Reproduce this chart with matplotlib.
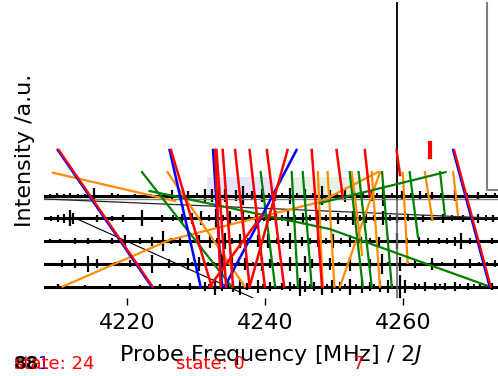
import matplotlib
matplotlib.use("Agg")
import matplotlib.pyplot as plt

# stick spectra, one list of peak positions [MHz] and half-heights per trace (bottom -> top)
trace0_pos = [4209.9, 4213.8, 4217.4, 4221.8, 4224.7, 4227.3, 4229.0, 4231.2, 4232.7, 4233.7,
              4235.3, 4236.3, 4237.3, 4238.9, 4240.6, 4242.4, 4243.5, 4245.0, 4245.7, 4247.1,
              4248.2, 4249.6, 4250.8, 4252.2, 4254.0, 4255.1, 4256.6, 4257.7, 4259.5, 4260.2,
              4261.6, 4263.1, 4264.5, 4266.0, 4267.4, 4269.3, 4271.1, 4272.8]
trace0_amp = [0.1, 0.08, 0.1, 0.06, 0.1, 0.12, 0.15, 0.2, 0.35, 0.2,
              0.25, 0.35, 0.15, 0.3, 0.2, 0.15, 0.2, 0.4, 0.25, 0.2,
              0.35, 0.3, 0.2, 0.35, 0.3, 0.2, 0.25, 0.3, 0.5, 0.3,
              0.15, 0.2, 0.15, 0.15, 0.2, 0.15, 0.1, 0.15]
trace1_pos = [4210.5, 4212.4, 4214.3, 4215.6, 4218.2, 4220.3, 4223.5, 4226.0, 4228.7, 4230.4,
              4233.7, 4235.1, 4237.0, 4239.5, 4240.6, 4243.5, 4245.7, 4246.7, 4249.3, 4252.2,
              4255.1, 4256.9, 4259.5, 4261.7, 4264.1, 4267.4, 4269.6, 4273.2]
trace1_amp = [0.15, 0.2, 0.35, 0.2, 0.1, 0.15, 0.4, 0.2, 0.25, 0.3,
              0.45, 0.3, 0.25, 0.3, 0.2, 0.3, 0.35, 0.2, 0.25, 0.3,
              0.2, 0.45, 0.3, 0.2, 0.25, 0.2, 0.2, 0.15]
trace2_pos = [4208.7, 4210.2, 4212.4, 4214.3, 4216.0, 4217.7, 4219.6, 4221.8, 4223.5, 4225.1,
              4227.6, 4230.4, 4231.9, 4234.1, 4236.3, 4238.9, 4240.3, 4243.5, 4245.3, 4247.6,
              4249.8, 4252.2, 4253.9, 4256.5, 4259.1, 4262.3, 4265.2, 4267.4, 4268.4, 4270.8, 4272.9]
trace2_amp = [0.1, 0.1, 0.15, 0.15, 0.1, 0.15, 0.25, 0.15, 0.2, 0.45,
              0.2, 0.25, 0.3, 0.35, 0.3, 0.25, 0.3, 0.35, 0.2, 0.25,
              0.3, 0.25, 0.2, 0.2, 0.35, 0.2, 0.15, 0.2, 0.35, 0.15, 0.15]
trace3_pos = [4208.9, 4210.0, 4210.8, 4211.6, 4212.1, 4215.6, 4217.8, 4219.3, 4222.1, 4225.0,
              4227.9, 4229.3, 4230.7, 4232.9, 4234.8, 4236.7, 4238.6, 4241.5, 4243.2, 4245.4,
              4247.6, 4250.5, 4252.7, 4254.6, 4257.0, 4259.1, 4262.8, 4265.7, 4268.6, 4270.8, 4273.0]
trace3_amp = [0.12, 0.15, 0.2, 0.35, 0.25, 0.15, 0.12, 0.15, 0.35, 0.15,
              0.2, 0.25, 0.3, 0.4, 0.3, 0.35, 0.2, 0.3, 0.35, 0.25,
              0.3, 0.25, 0.3, 0.2, 0.3, 0.2, 0.15, 0.2, 0.15, 0.2, 0.15]
trace4_pos = [4208.7, 4209.8, 4210.8, 4211.6, 4212.8, 4213.8, 4215.1, 4217.7, 4218.6, 4221.1,
              4223.2, 4226.4, 4228.7, 4231.3, 4232.2, 4233.2, 4234.2, 4235.7, 4236.7, 4238.0,
              4239.5, 4241.4, 4243.5, 4245.7, 4248.2, 4249.3, 4251.5, 4252.9, 4255.4, 4257.0,
              4259.8, 4262.4, 4264.1, 4267.5, 4270.8, 4273.2]
trace4_amp = [0.08, 0.1, 0.06, 0.1, 0.08, 0.06, 0.35, 0.1, 0.08, 0.06,
              0.08, 0.25, 0.2, 0.3, 0.3, 0.45, 0.3, 0.25, 0.4, 0.2,
              0.3, 0.25, 0.35, 0.3, 0.4, 0.25, 0.3, 0.2, 0.25, 0.45,
              0.2, 0.2, 0.15, 0.25, 0.15, 0.1]

# weaker lines filling the dense part of each trace
trace0_weak = [4230.5, 4231.8, 4234.6, 4239.6, 4241.4, 4244.2, 4246.4, 4248.9, 4251.5, 4253.1,
               4255.8, 4258.4, 4262.3, 4265.3, 4268.2, 4270.2]
trace1_weak = [4229.4, 4231.6, 4232.6, 4234.4, 4236.2, 4238.2, 4241.8, 4244.6, 4248.1, 4250.6,
               4253.7, 4257.8, 4260.6, 4262.8, 4265.6, 4270.9, 4272.1]
trace2_weak = [4226.3, 4229.0, 4233.0, 4235.2, 4237.5, 4241.6, 4242.6, 4246.4, 4248.7, 4251.0,
               4255.2, 4257.8, 4260.5, 4263.6, 4266.3, 4269.6]
trace3_weak = [4226.6, 4231.8, 4233.9, 4235.7, 4237.6, 4239.8, 4240.6, 4242.4, 4244.3, 4246.5,
               4248.7, 4251.6, 4253.7, 4255.8, 4258.0, 4260.6, 4264.2, 4267.1, 4271.9]
trace4_weak = [4230.1, 4237.3, 4240.5, 4242.4, 4244.6, 4246.9, 4250.4, 4254.1, 4256.2, 4258.4,
               4261.1, 4263.3, 4265.5, 4269.2, 4272.0]
weak_amp = [0.12, 0.1, 0.12, 0.14, 0.1]

# level-tracking lines: (freq_start, y_start, freq_end, y_end)
redblue_lines = [(4209.9, 6, 4223.5, 0), (4267.2, 6, 4272.5, 0)]
blue_lines = [(4226.1, 6, 4230.6, 0), (4232.4, 6, 4233.7, 0), (4234.1, 0, 4244.5, 6)]
red_lines = [(4226.3, 6, 4232.2, 0), (4232.7, 6, 4233.5, 0), (4232.9, 6, 4234.3, 0),
             (4233.8, 6, 4235.3, 0), (4235.6, 6, 4237.7, 0), (4237.7, 6, 4239.9, 0),
             (4240.2, 6, 4242.7, 0), (4246.7, 6, 4248.2, 0), (4237.7, 0, 4243.2, 6),
             (4231.9, 0, 4239.5, 3.14), (4250.3, 6, 4251.2, 3.94), (4254.4, 6, 4255.1, 4.02),
             (4259.0, 6, 4259.5, 4.9)]
orange_lines = [(4209.2, 5.0, 4226.9, 3.76), (4225.8, 5.03, 4237.0, 0),
                (4250.8, 0, 4256.6, 5.03), (4247.6, 5.03, 4248.3, 0),
                (4249.0, 5.03, 4250.0, 0), (4252.5, 5.03, 4254.0, 1.39),
                (4255.4, 5.03, 4256.6, 0), (4259.9, 5.0, 4260.6, 1.04),
                (4263.1, 5.03, 4264.2, 2.92), (4267.2, 5.03, 4267.9, 3.14)]
orange_path_f = [4210.6, 4226.1, 4247.9, 4256.3]
orange_path_y = [0, 2.05, 3.72, 5.03]
green_lines = [(4222.1, 5.03, 4235.1, 0), (4247.9, 3.67, 4266.1, 5.03),
               (4239.3, 5.03, 4241.4, 0), (4243.8, 5.03, 4244.7, 0),
               (4245.4, 5.03, 4246.7, 0), (4252.2, 5.03, 4254.1, 0),
               (4253.5, 5.03, 4255.4, 0), (4256.9, 5.03, 4258.3, 0),
               (4260.9, 5.03, 4262.1, 2.18), (4265.3, 5.03, 4266.0, 3.14)]
green_path_f = [4223.2, 4249.3, 4272.5]
green_path_y = [4.2, 2.53, 0]

xticks = [4220, 4240, 4260]

fig = plt.figure(figsize=(4.98, 3.76), dpi=100)
ax = fig.add_axes([44 / 498, 78 / 376, 454 / 498, 296 / 376])
ax.set_xlim(4207.9, 4273.7)
ax.set_ylim(-0.5, 12.5)

# shaded regions
ax.axvspan(4231.5, 4241.4, ymin=(3.94 + 0.5) / 13, ymax=(4.81 + 0.5) / 13, color='blue', alpha=0.1, lw=0)
ax.axvspan(4244.0, 4254.0, ymin=(3.94 + 0.5) / 13, ymax=(4.81 + 0.5) / 13, color='green', alpha=0.1, lw=0)

# spectra
traces = [(trace0_pos, trace0_amp), (trace1_pos, trace1_amp), (trace2_pos, trace2_amp),
          (trace3_pos, trace3_amp), (trace4_pos, trace4_amp)]
weak = [trace0_weak, trace1_weak, trace2_weak, trace3_weak, trace4_weak]
for k, (pos, amp) in enumerate(traces):
    ax.axhline(k, color='k', lw=2.2)
    ax.vlines(pos, [k - a for a in amp], [k + a for a in amp], color='k', lw=1.6)
    ax.vlines(weak[k], k - weak_amp[k], k + weak_amp[k], color='k', lw=1.3)

# guide lines
ax.axhline(3.85, color='0.5', lw=1)
ax.plot([4207.9, 4273.7], [3.85, 3.0], color='0.15', lw=0.9)
ax.plot([4212.7, 4238.2], [2.97, -0.5], color='k', lw=0.8)
ax.axvline(4259.0, color='0.4', lw=1.2)
ax.plot([4259.0, 4259.0], [3.9, 12.5], color='k', lw=1.2)
ax.plot([4272.1, 4272.1, 4273.7], [12.5, 4.24, 4.24], color='0.5', lw=1.5)

for f0, y0, f1, y1 in orange_lines:
    ax.plot([f0, f1], [y0, y1], color='darkorange', lw=1.6)
ax.plot(orange_path_f, orange_path_y, color='darkorange', lw=1.6)
for f0, y0, f1, y1 in green_lines:
    ax.plot([f0, f1], [y0, y1], color='green', lw=1.6)
ax.plot(green_path_f, green_path_y, color='green', lw=1.6)
for f0, y0, f1, y1 in blue_lines:
    ax.plot([f0, f1], [y0, y1], color='blue', lw=1.8)
for f0, y0, f1, y1 in redblue_lines:
    ax.plot([f0, f1], [y0, y1], color='blue', lw=1.8)
    ax.plot([f0 + 0.15, f1 + 0.15], [y0, y1], color='red', lw=1.6)
for f0, y0, f1, y1 in red_lines:
    ax.plot([f0, f1], [y0, y1], color='red', lw=1.8)

ax.plot([4263.8, 4263.8], [5.7, 6.3], color='red', lw=3)

for s in ax.spines.values():
    s.set_visible(False)
ax.set_yticks([])
ax.set_xticks(xticks)
ax.tick_params(axis='x', labelsize=16, length=5, width=1, pad=6)

fig.text(25 / 498, 1 - 150 / 376, 'Intensity /a.u.', rotation=90, fontsize=16,
         ha='center', va='center')
fig.text(271 / 498, 1 - 355 / 376, 'Probe Frequency [MHz] / 2$J$', fontsize=16,
         ha='center', va='center')

fig.text(14 / 498, 1 - 364 / 376, '88', color='k', fontsize=13, fontweight='bold', va='center')
fig.text(38 / 498, 1 - 364 / 376, '1', color='blue', fontsize=13, va='center')
fig.text(14 / 498, 1 - 364 / 376, 'state: 24', color='red', fontsize=13, va='center')
fig.text(176 / 498, 1 - 364 / 376, 'state: 0', color='red', fontsize=13, va='center')
fig.text(352 / 498, 1 - 364 / 376, '7', color='red', fontsize=13, va='center')

fig.savefig('out.png', dpi=100)
